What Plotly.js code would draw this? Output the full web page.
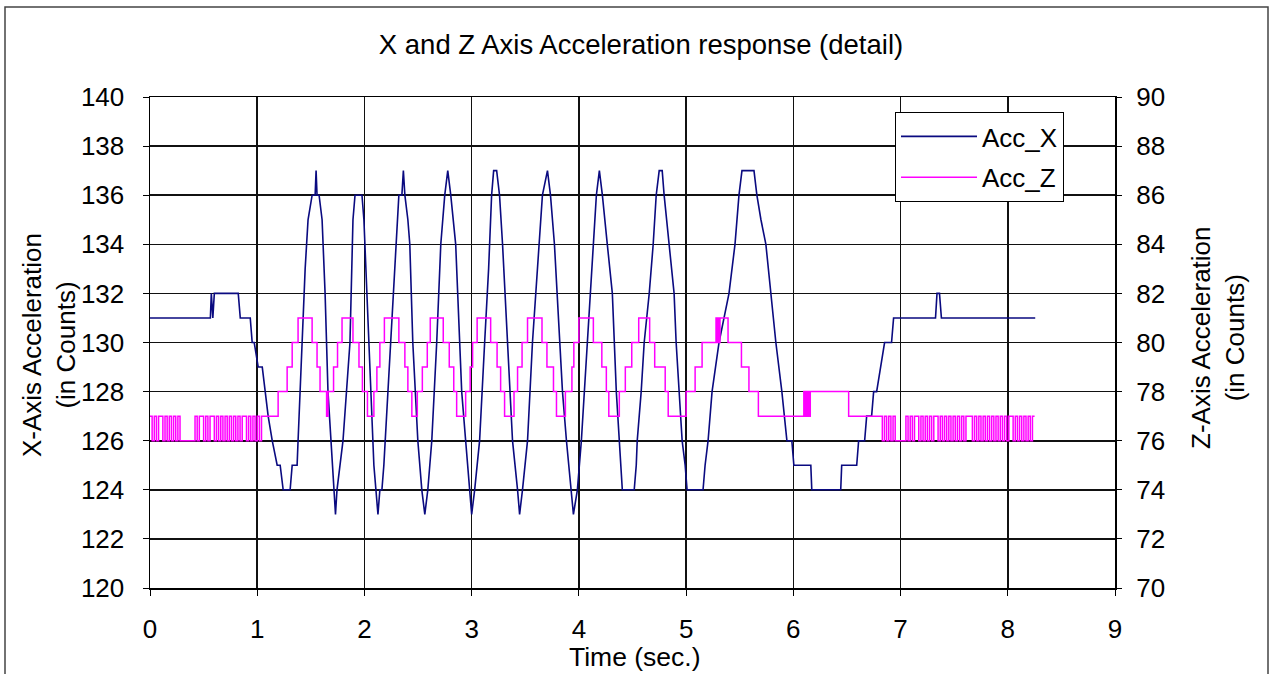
<!DOCTYPE html>
<html><head><meta charset="utf-8">
<script src="https://cdn.plot.ly/plotly-3.0.1.min.js"></script>
<style>html,body{margin:0;padding:0;background:#fff;} #chart{width:1273px;height:674px;}</style>
</head><body><div id="chart"></div>
<script>
// ---- Acc_X (left axis, counts) : breakpoints ----
const accXTime = [
 0,0.563,0.572,0.586,0.600,0.823,0.842,0.935,0.953,0.972,
 1.009,1.047,1.102,1.140,1.186,1.214,1.242,1.307,1.326,1.372,
 1.381,1.419,1.447,1.474,1.512,1.540,1.549,1.558,1.577,1.605,
 1.633,1.660,1.688,1.716,1.730,1.744,1.800,1.865,1.893,1.912,
 1.977,1.995,2.023,2.060,2.088,2.107,2.126,2.144,2.163,2.181,
 2.219,2.265,2.293,2.321,2.349,2.363,2.377,2.405,2.423,2.451,
 2.498,2.535,2.563,2.591,2.628,2.674,2.712,2.749,2.777,2.805,
 2.851,2.879,2.907,2.944,2.981,3.000,3.028,3.074,3.121,3.158,
 3.186,3.205,3.233,3.260,3.288,3.335,3.381,3.428,3.447,3.474,
 3.521,3.567,3.633,3.660,3.707,3.735,3.772,3.819,3.847,3.884,
 3.930,3.949,3.986,4.023,4.079,4.135,4.163,4.191,4.219,4.265,
 4.312,4.349,4.377,4.405,4.516,4.535,4.544,4.581,4.609,4.656,
 4.693,4.721,4.749,4.777,4.795,4.842,4.888,4.907,4.935,4.963,
 4.991,5.009,5.158,5.177,5.205,5.242,5.307,5.400,5.456,5.493,
 5.521,5.633,5.660,5.698,5.744,5.791,5.837,5.893,5.940,5.986,
 6.005,6.163,6.172,6.442,6.451,6.591,6.609,6.665,6.684,6.730,
 6.749,6.777,6.814,6.851,6.916,6.935,7.326,7.340,7.363,7.381,
 8.256
];
const accXCounts = [
 131,131,132,131,132,132,131,131,130,130,
 129,129,127,126,125,125,124,124,125,125,
 126,130,133,135,136,136,137,136,136,135,
 132,128,126,124,123,124,126,130,135,136,
 136,135,132,128,125,124,123,124,124,125,
 128,132,134,136,136,137,136,135,134,130,
 126,124,123,124,126,130,134,136,137,136,
 134,131,128,126,124,123,124,126,130,133,
 136,137,137,136,134,130,126,124,123,124,
 126,130,134,136,137,136,134,130,128,126,
 124,123,124,126,130,134,136,137,136,134,
 132,128,126,124,124,125,126,128,130,132,
 134,136,137,137,136,134,132,130,128,126,
 125,124,124,125,126,128,130,132,134,136,
 137,137,136,135,134,132,130,128,126,126,
 125,125,124,124,125,125,126,126,127,127,
 128,128,129,130,130,131,131,132,132,131,
 131
];

// ---- Acc_Z (right axis, counts) : level changes ----
const accZTime = [
 1.047,1.195,1.279,1.326,1.381,1.512,1.558,1.586,1.647,1.660,
 1.712,1.749,1.791,1.893,1.949,1.981,2.028,2.088,2.116,2.144,
 2.186,2.321,2.377,2.405,2.442,2.493,2.540,2.586,2.614,2.735,
 2.791,2.833,2.860,2.944,2.986,3.009,3.051,3.177,3.237,3.270,
 3.307,3.395,3.428,3.470,3.521,3.656,3.702,3.763,3.791,3.874,
 3.935,3.953,4.000,4.135,4.214,4.256,4.279,4.377,4.433,4.493,
 4.558,4.660,4.707,4.805,4.833,5.000,5.084,5.149,5.279,5.288,
 5.298,5.307,5.316,5.391,5.516,5.586,5.674,6.098,6.107,6.116,
 6.126,6.135,6.149,6.158,6.516,6.814
];
const accZCounts = [
 77,78,79,80,81,80,79,78,77,78,
 79,80,81,80,79,78,77,78,79,80,
 81,80,79,78,77,78,79,80,81,80,
 79,78,77,78,79,80,81,80,79,78,
 77,78,79,80,81,80,79,78,77,78,
 79,80,81,80,79,78,77,78,79,80,
 81,80,79,78,77,78,79,80,81,80,
 81,80,81,80,79,78,77,78,77,78,
 77,78,77,78,77,77
];
// idle noise of Acc_Z before and after the excitation (one sample every 0.02 s)
const samplePeriod = 0.02;
const zIdleStartA = 0;
const zIdleA = [
 77,76,77,76,77,77,76,77,76,77,
 76,77,76,77,76,76,76,76,76,76,
 76,77,76,77,77,76,77,76,77,77,
 76,77,76,77,76,77,76,77,76,77,
 76,77,76,77,77,76,77,76,77,76,
 77,76,77
];
const zIdleStartB = 6.83;
const zIdleB = [
 76,77,76,77,76,77,76,76,76,76,
 76,77,76,77,76,77,77,76,77,76,
 77,76,77,76,77,77,76,77,76,77,
 76,77,76,77,76,77,76,77,76,77,
 77,77,76,77,76,77,76,77,76,77,
 76,77,76,77,76,77,76,77,76,77,
 77,76,77,76,77,76,77,76,77,76,
 77,77
];

const xTickVals = [0,1,2,3,4,5,6,7,8,9];
const title = 'X and Z Axis Acceleration response (detail)';

// assemble Z
const zT = [], zV = [];
zIdleA.forEach((v,i)=>{ zT.push(zIdleStartA + i*samplePeriod); zV.push(v); });
accZTime.forEach((t,i)=>{ zT.push(t); zV.push(accZCounts[i]); });
zIdleB.forEach((v,i)=>{ zT.push(zIdleStartB + i*samplePeriod); zV.push(v); });

const traces = [
 {x:accXTime, y:accXCounts, name:'Acc_X', type:'scatter', mode:'lines',
  line:{color:'#0a0a80', width:1.6}, yaxis:'y', legendgroup:'a'},
 {x:zT, y:zV, name:'Acc_Z', type:'scatter', mode:'lines',
  line:{color:'#ff00ff', width:1.5, shape:'hv'}, yaxis:'y2', legendgroup:'b'}
];

const W=1273, H=674, L=150, R=158, T=97, B=86;
const pw = W-L-R, ph = H-T-B;
const px = v => (v-L)/pw, py = v => (H-B-v)/ph;

const layout = {
 width:W, height:H,
 margin:{l:L, r:R, t:T, b:B, pad:0},
 paper_bgcolor:'#fff', plot_bgcolor:'#fff',
 font:{family:'"Liberation Sans", Arial, sans-serif', color:'#000', size:26},
 title:{text:title, font:{size:27.5, color:'#000'}, xref:'container', yref:'container',
        x:641/W, y:1-44/H, xanchor:'center', yanchor:'middle'},
 xaxis:{range:[0,9], tickvals:xTickVals, showgrid:true, gridcolor:'#111', gridwidth:1.6,
        showline:true, linecolor:'#000', linewidth:1.5, mirror:true,
        ticks:'outside', ticklen:6, tickcolor:'#000', ticklabelstandoff:11,
        zeroline:false, tickfont:{size:26}},
 yaxis:{range:[120,140], dtick:2, tick0:120, showgrid:true, gridcolor:'#111', gridwidth:1.6,
        showline:true, linecolor:'#000', linewidth:1.5, mirror:true,
        ticks:'outside', ticklen:6, tickcolor:'#000', ticklabelstandoff:13,
        zeroline:false, tickfont:{size:26}},
 yaxis2:{range:[70,90], dtick:2, tick0:70, overlaying:'y', side:'right', showgrid:false,
        showline:false, ticks:'outside', ticklen:6, tickcolor:'#000', ticklabelstandoff:9,
        zeroline:false, tickfont:{size:26}},
 legend:{x:px(895), y:py(112), xanchor:'left', yanchor:'top', bgcolor:'#fff',
        bordercolor:'#000', borderwidth:1, font:{size:26}, traceorder:'grouped',
        tracegroupgap:4, itemwidth:76},
 showlegend:true,
 annotations:[
  {text:'X-Axis Acceleration<br>(in Counts)', textangle:-90, xref:'paper', yref:'paper',
   x:px(49), y:py(345), xanchor:'center', yanchor:'middle', showarrow:false, font:{size:26}},
  {text:'Z-Axis Acceleration<br>(in Counts)', textangle:-90, xref:'paper', yref:'paper',
   x:px(1218), y:py(338), xanchor:'center', yanchor:'middle', showarrow:false, font:{size:26}},
  {text:'Time (sec.)', xref:'paper', yref:'paper', x:px(635), y:py(657),
   xanchor:'center', yanchor:'middle', showarrow:false, font:{size:26.5}}
 ],
 shapes:[
  {type:'rect', xref:'paper', yref:'paper', x0:px(5), x1:px(1268), y0:py(720), y1:py(7),
   line:{color:'#444', width:1.5}, fillcolor:'rgba(0,0,0,0)', layer:'below'}
 ]
};

Plotly.newPlot('chart', traces, layout, {displayModeBar:false, staticPlot:true});
</script></body></html>
